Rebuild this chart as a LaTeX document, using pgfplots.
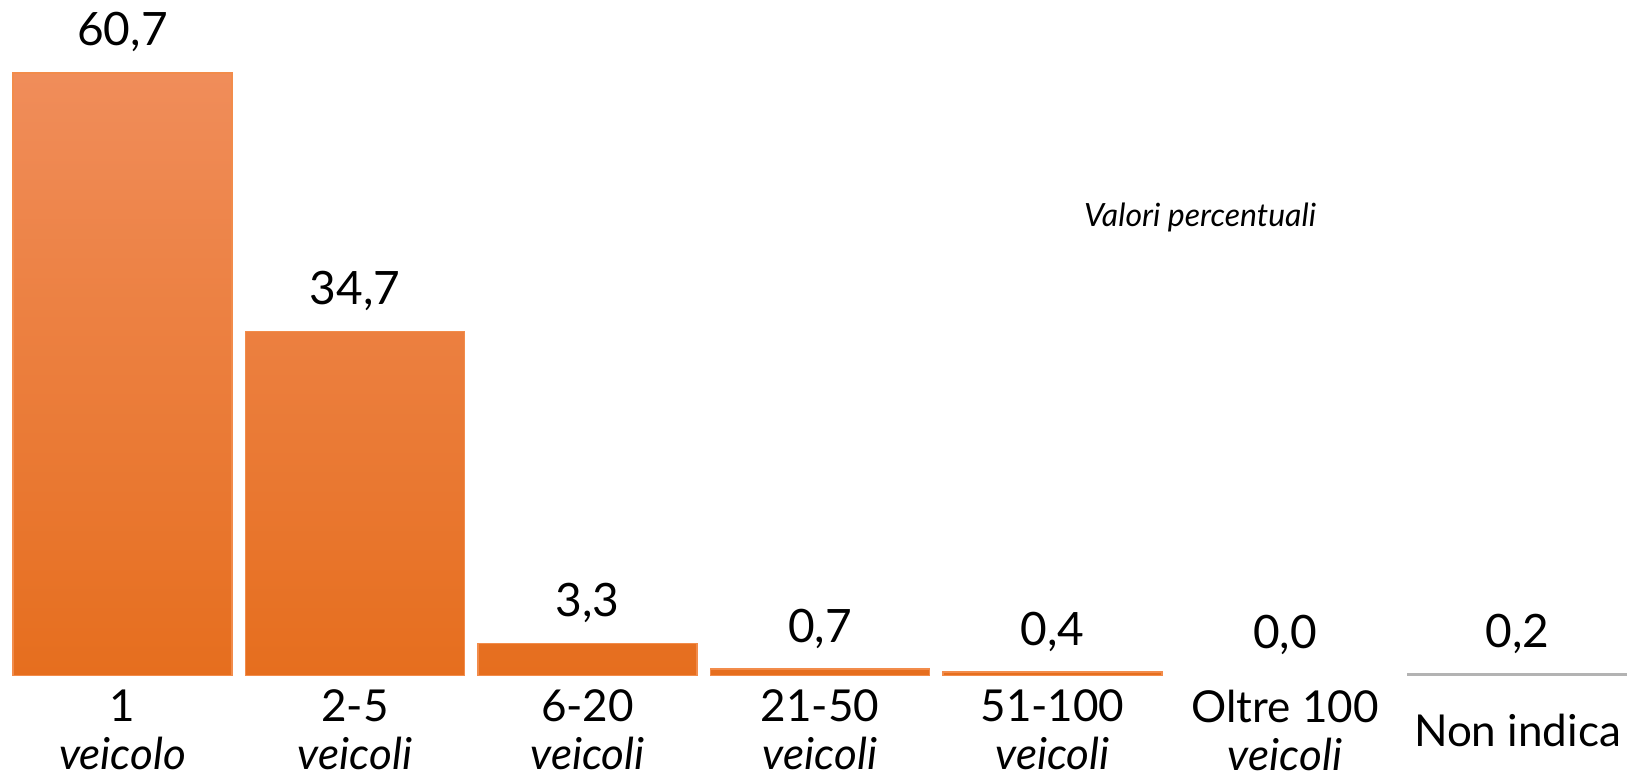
\documentclass[border=0pt]{standalone}
\usepackage{fontspec}
\setmainfont{Lato}
\usepackage{pgfplots}
\pgfplotsset{compat=1.18}

\definecolor{bartop}{RGB}{240,141,90}
\definecolor{barmid}{RGB}{243,128,47}
\definecolor{barbot}{RGB}{230,110,30}
\definecolor{baredge}{RGB}{242,140,75}
\definecolor{grbar}{RGB}{166,166,166}

\begin{document}
\begin{tikzpicture}
\path[use as bounding box] (0,0) rectangle (813.5pt,387.5pt);
\begin{axis}[
    at={(0pt,49.5pt)}, anchor=south west,
    scale only axis,
    width=813.5pt, height=322.9pt,
    xmin=-0.527, xmax=6.471,
    ymin=0, ymax=65,
    axis line style={draw=none},
    ytick=\empty,
    xtick={0,...,6},
    major tick length=0pt,
    xticklabels={
      {1\\[-3pt]\textit{veicolo}},
      {2-5\\[-3pt]\textit{veicoli}},
      {6-20\\[-3pt]\textit{veicoli}},
      {21-50\\[-3pt]\textit{veicoli}},
      {51-100\\[-3pt]\textit{veicoli}},
      {Oltre 100\\[-3pt]\textit{veicoli}},
      {Non indica}},
    xticklabel style={anchor=center, align=center, yshift=-27pt,
      inner sep=1pt, font=\fontsize{22}{27}\selectfont},
    ybar, bar width=109.5pt, bar shift=0pt,
    nodes near coords,
    every node near coord/.append style={anchor=base, yshift=13.5pt,
      font=\fontsize{23}{27}\selectfont, text=black},
    /pgf/number format/.cd, fixed, fixed zerofill, precision=1, use comma,
      assume math mode=true,
  ]
  % classi di veicoli
  \addplot[draw=baredge, line width=0.6pt,
    top color=bartop, middle color=barmid, bottom color=barbot]
    coordinates {(0,60.7) (1,34.7) (2,3.3) (3,0.7) (4,0.4)};
  % oltre 100: nessun veicolo
  \addplot[draw=none, fill=none] coordinates {(5,0.0)};
  % non indica
  \addplot[draw=grbar!85, line width=1.2pt, fill=grbar]
    coordinates {(6,0.2)};
\end{axis}
\node[anchor=base, font=\fontsize{16}{19}\selectfont\itshape] at (600pt,274pt) {Valori percentuali};
\end{tikzpicture}
\end{document}
